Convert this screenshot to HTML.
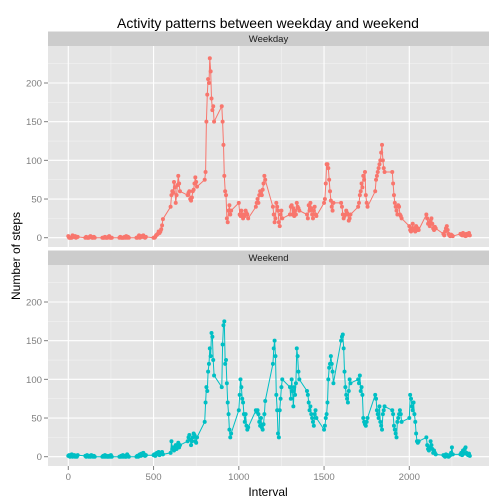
<!DOCTYPE html>
<html><head><meta charset="utf-8"><style>body{margin:0;background:#fff}svg{display:block;font-family:"Liberation Sans",sans-serif}</style></head>
<body>
<svg id="chart" width="504" height="504" xmlns="http://www.w3.org/2000/svg">
<text x="268" y="28" font-size="14" text-anchor="middle">Activity patterns between weekday and weekend</text>
<text x="268" y="496" font-size="12" text-anchor="middle">Interval</text>
<text transform="translate(20,256) rotate(-90)" font-size="12" text-anchor="middle">Number of steps</text>
<g id="plot"></g>
</svg>
<script>
const panels = ["Weekday","Weekend"];
const xTicks = [0,500,1000,1500,2000];
const yTicks = [0,50,100,150,200];
const weekdaySteps = [
2,0,0,0,0,3,1,1,2,0,1,1,
0,1,0,0,0,1,2,1,0,0,1,0,
0,0,0,1,0,0,0,1,2,0,0,0,
0,1,0,0,0,0,1,0,2,0,1,0,
0,0,1,3,0,1,2,1,3,1,0,1,
0,0,1,3,4,5,8,6,8,11,16,24,
40,55,60,58,72,65,45,55,68,80,70,60,
55,58,60,50,48,52,60,62,70,78,72,66,
75,85,150,185,205,200,232,215,180,165,170,150,
170,150,120,80,60,55,25,20,35,42,30,35,
45,30,28,35,30,25,30,28,35,32,30,25,
40,45,50,45,55,60,58,55,62,70,80,75,
40,30,20,25,45,40,35,20,15,30,35,25,
30,40,42,30,38,28,35,30,45,40,38,35,
30,25,42,35,45,38,30,25,35,40,30,28,
45,50,70,95,95,90,75,60,48,40,35,45,
45,40,30,25,28,30,35,32,30,22,25,30,
40,45,55,60,70,65,80,75,85,55,45,40,
60,75,80,85,90,95,100,110,120,100,90,85,
85,70,55,45,40,35,30,42,40,30,28,25,
15,10,8,12,18,10,12,8,15,10,12,10,
30,25,18,20,15,22,25,18,12,10,14,12,
5,3,8,12,15,10,5,3,2,4,3,2,
5,4,3,6,3,4,2,5,3,4,6,3];
const weekendSteps = [
1,2,0,1,3,0,1,2,0,1,0,2,
1,0,2,1,0,1,0,2,1,0,1,0,
0,1,0,2,0,1,0,0,1,0,2,0,
0,0,1,0,2,0,1,0,0,3,1,0,
0,1,0,2,3,1,4,2,5,3,1,2,
2,3,1,4,5,3,6,2,4,5,6,3,
5,20,10,12,8,10,15,10,14,18,12,15,
20,25,28,22,15,20,25,30,28,20,18,25,
45,70,90,85,110,120,140,130,160,155,125,105,
90,145,170,175,120,125,95,70,55,35,25,30,
60,80,100,90,75,70,55,45,55,40,35,38,
60,58,60,55,45,40,50,38,35,42,55,72,
120,140,150,130,80,60,30,25,60,75,90,100,
90,75,100,85,65,90,80,95,140,130,110,100,
85,80,70,60,65,55,50,45,40,55,60,50,
35,40,50,55,70,100,115,120,130,120,110,95,
150,155,158,140,110,90,80,75,70,85,100,95,
100,95,105,85,90,80,50,45,42,40,45,50,
80,75,60,55,50,65,45,40,35,55,60,65,
60,55,40,35,30,25,45,50,55,60,55,45,
50,80,75,65,60,70,55,45,30,20,18,20,
25,15,10,8,12,20,15,10,5,8,5,3,
2,1,0,3,1,2,0,1,2,5,12,3,
3,5,2,8,4,10,12,5,3,2,4,1];
const intervals = [];
for (let h = 0; h < 24; h++) for (let m = 0; m < 60; m += 5) intervals.push(h*100+m);

const NS = "http://www.w3.org/2000/svg";
const g = document.getElementById("plot");
const L = 48, R = 489;
const panelTops = [46, 265], panelH = 201;
const xScale = v => 68.3 + v * 0.1705;
const yScale = (v, p) => panelTops[p] + 191.7 - v * 0.7735;
function mk(tag, attrs, parent) {
  const e = document.createElementNS(NS, tag);
  for (const k in attrs) e.setAttribute(k, attrs[k]);
  (parent || g).appendChild(e);
  return e;
}
const series = [weekdaySteps, weekendSteps];
const colors = ["#f8766d", "#00bfc4"];
panels.forEach((name, p) => {
  const top = panelTops[p];
  const strip = mk("rect", {x: L, y: top - 14.5, width: R - L, height: 14.5, fill: "#cccccc"});
  
  
  const st = mk("text", {x: (L + R) / 2, y: top - 4, "font-size": 9.5, "text-anchor": "middle", fill: "#1a1a1a"});
  st.textContent = name;
  
  
  const bg = mk("rect", {x: L, y: top, width: R - L, height: panelH, fill: "#e5e5e5"});
  
  
  // minor grid
  for (let i = 0; i < xTicks.length; i++) {
    const mx = xScale(xTicks[i] + 250);
    if (mx < R) mk("line", {x1: mx, x2: mx, y1: top, y2: top + panelH, stroke: "#f2f2f2", "stroke-width": 0.6});
  }
  for (let i = 0; i < yTicks.length; i++) {
    const my = yScale(yTicks[i] + 25, p);
    if (my > top) mk("line", {x1: L, x2: R, y1: my, y2: my, stroke: "#f2f2f2", "stroke-width": 0.6});
  }
  xTicks.forEach(t => {
    const x = xScale(t);
    mk("line", {x1: x, x2: x, y1: top, y2: top + panelH, stroke: "#fff", "stroke-width": 1.1});
  });
  yTicks.forEach(t => {
    const y = yScale(t, p);
    mk("line", {x1: L, x2: R, y1: y, y2: y, stroke: "#fff", "stroke-width": 1.1});
    mk("line", {x1: L - 4, x2: L, y1: y, y2: y, stroke: "#7f7f7f", "stroke-width": 1});
    const tl = mk("text", {x: L - 6, y: y + 3.5, "font-size": 9.6, "text-anchor": "end", fill: "#7f7f7f"});
    tl.textContent = t;
    
    
  });
  const data = series[p];
  const pts = data.map((v, i) => xScale(intervals[i]).toFixed(1) + "," + yScale(v, p).toFixed(1)).join(" ");
  const line = mk("polyline", {points: pts, fill: "none", stroke: colors[p], "stroke-width": 1});
  
  
  data.forEach((v, i) => {
    const c = mk("circle", {cx: xScale(intervals[i]), cy: yScale(v, p), r: 2, fill: colors[p]});
    
    
  });
});
xTicks.forEach(t => {
  const x = xScale(t);
  mk("line", {x1: x, x2: x, y1: 466, y2: 470, stroke: "#7f7f7f", "stroke-width": 1});
  const tl = mk("text", {x: x, y: 480, "font-size": 9.6, "text-anchor": "middle", fill: "#7f7f7f"});
  tl.textContent = t;
  
  
});
</script>
</body></html>
